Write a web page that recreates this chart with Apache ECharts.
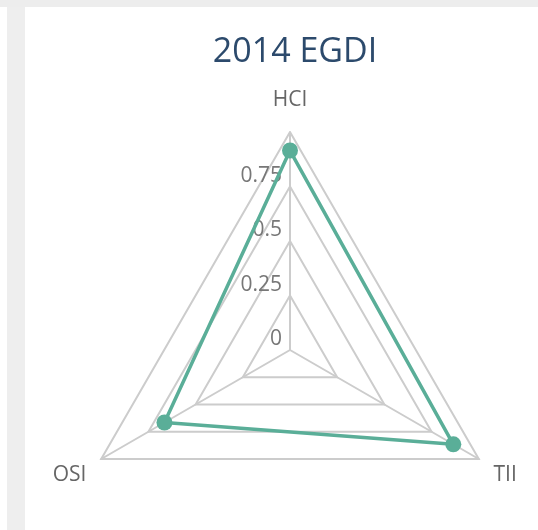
<!DOCTYPE html>
<html>
<head>
<meta charset="utf-8">
<title>2014 EGDI</title>
<script src="https://cdn.jsdelivr.net/npm/echarts@6/dist/echarts.min.js"></script>
<style>
  html, body { margin: 0; padding: 0; background: #fff; }
  /* gray frame strips of the card */
  .strip-top { position: absolute; left: 0; top: 0; width: 538px; height: 7px; background: #ededed; }
  .strip-left { position: absolute; left: 7px; top: 7px; width: 18px; height: 523px; background: #eeeeee; }
  #chart { position: absolute; left: 0; top: 0; width: 538px; height: 530px; }
</style>
</head>
<body>
<div class="strip-top"></div>
<div class="strip-left"></div>
<div id="chart"></div>
<script>
// 指标 (echarts 逆时针排列)
var indicators = ['HCI', 'OSI', 'TII']
// 2014 数值
var values = [0.915, 0.665, 0.865]
var axisMax = 1

var myChart = echarts.init(document.getElementById('chart'))
var nameFont = { color: '#666', fontSize: 21, fontFamily: 'Open Sans' }
var option = {
  title: {
    text: '2014 EGDI',
    left: 290,
    top: 30,
    textAlign: 'center',
    textStyle: {
      color: '#2c4a6c',
      fontSize: 34,
      fontWeight: 'normal',
      fontFamily: 'Open Sans'
    }
  },
  radar: {
    center: [290, 350],
    radius: 218,
    startAngle: 90,
    splitNumber: 4,
    shape: 'polygon',
    nameGap: 17,
    indicator: indicators.map(function (n, i) {
      var item = { name: n, min: 0, max: axisMax }
      // 只在第一个轴显示刻度
      if (i === 0) item.axisLabel = { show: true }
      return item
    }),
    axisName: {
      color: '#666',
      fontSize: 21,
      fontFamily: 'Open Sans',
      // 顶部和底部名称分别微调位置
      formatter: function (name) {
        return name === 'HCI' ? '{t|' + name + '}' : '{b|' + name + '}'
      },
      rich: {
        t: Object.assign({ padding: [0, 0, 4, 0] }, nameFont),
        b: Object.assign({ padding: [16, 0, 0, 0] }, nameFont)
      }
    },
    axisLabel: {
      show: false,
      showMaxLabel: false,
      color: '#777',
      fontSize: 21,
      fontFamily: 'Open Sans',
      verticalAlign: 'bottom',
      margin: 8
    },
    splitLine: { lineStyle: { color: '#cccccc', width: 2 } },
    splitArea: { show: false },
    axisLine: { lineStyle: { color: '#cccccc', width: 2 } }
  },
  series: [
    {
      type: 'radar',
      symbol: 'circle',
      symbolSize: 16,
      lineStyle: { color: '#5aae98', width: 3.5 },
      itemStyle: { color: '#5aae98' },
      data: [{ value: values, name: '2014' }]
    }
  ]
}
myChart.setOption(option)
</script>
</body>
</html>
